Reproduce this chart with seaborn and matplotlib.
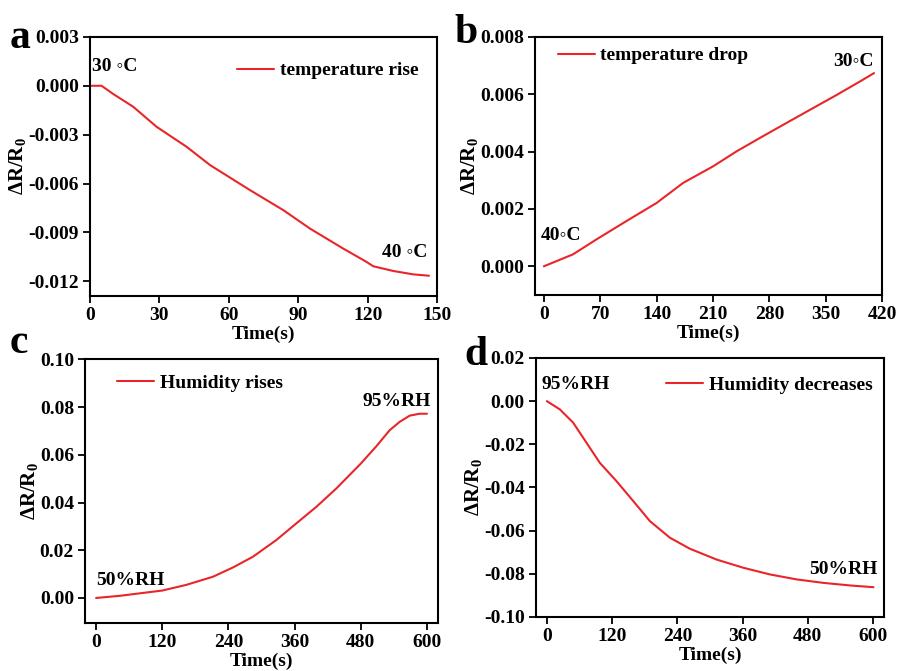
import numpy as np
import pandas as pd
import seaborn as sns
import matplotlib.pyplot as plt
from matplotlib.ticker import FormatStrFormatter

# ---- data ----
t_rise = [0, 5, 10, 18.7, 28.8, 41.8, 51.9, 69.2, 83.6, 95.1, 109.5, 119.6, 122.4, 131.1, 139.8, 146.5]
r_rise = [0.0, 0.0, -0.0005, -0.00129, -0.00252, -0.00375, -0.00487, -0.00641, -0.00764,
          -0.00877, -0.0100, -0.01082, -0.01108, -0.01137, -0.01158, -0.01166]

t_drop = [0, 15.7, 36.4, 65.4, 102.7, 140, 173, 210.3, 239.3, 268.4, 297.4, 330.5, 363.7, 392.6, 410]
r_drop = [0.0, 0.00018, 0.00042, 0.00094, 0.00158, 0.00221, 0.00291, 0.00349, 0.00401,
          0.00448, 0.00494, 0.00546, 0.00598, 0.00645, 0.00674]

t_hum_up = [0, 43, 119.7, 163.8, 212, 248.3, 284.6, 327, 360.7, 399.5, 435.7, 480.4,
            508.3, 532.4, 550.5, 568.7, 586.8, 600]
r_hum_up = [0.0, 0.0009, 0.0031, 0.0055, 0.0089, 0.0128, 0.0173, 0.0243, 0.0308, 0.0382,
            0.0459, 0.0564, 0.0636, 0.0703, 0.0738, 0.0764, 0.0772, 0.0772]

t_hum_dn = [0, 23.9, 48.5, 73, 97.5, 128.2, 158.9, 189.6, 226.4, 263.2, 312.3, 361.4,
            410.5, 459.6, 508.7, 557.8, 600.7]
r_hum_dn = [0.0, -0.0038, -0.0100, -0.0193, -0.0286, -0.0371, -0.0463, -0.0556, -0.0633,
            -0.0684, -0.0734, -0.0772, -0.0803, -0.0826, -0.0842, -0.0854, -0.0862]

sns.set_style("ticks")
plt.rcParams['font.family'] = ['Liberation Serif', 'DejaVu Serif']
plt.rcParams['font.weight'] = 'bold'
plt.rcParams['axes.labelweight'] = 'bold'
plt.rcParams['axes.unicode_minus'] = False
for k in ['text.color', 'axes.labelcolor', 'xtick.color', 'ytick.color', 'axes.edgecolor']:
    plt.rcParams[k] = 'black'
plt.rcParams['mathtext.fontset'] = 'custom'
plt.rcParams['mathtext.rm'] = 'Liberation Serif:bold'
plt.rcParams['mathtext.it'] = 'Liberation Serif:bold'
plt.rcParams['mathtext.bf'] = 'Liberation Serif:bold'

red = '#e8262a'
fig = plt.figure(figsize=(8.97, 6.71), dpi=100)

panels = [
    # letter, rect, x, y, legend, xlim, xticks, ylim, yticks, fmt, legend loc, anchor, notes
    ("a", [0.1003, 0.559, 0.387, 0.386], t_rise, r_rise, "temperature rise",
     (0, 150), np.arange(0, 151, 30), (-0.0129, 0.003), np.arange(-0.012, 0.0031, 0.003), '%.3f',
     'upper right', (0.968, 0.934), [(1, 0.00116, "30 \u25e6C"), (126, -0.01022, "40 \u25e6C")]),
    ("b", [0.5964, 0.5604, 0.387, 0.3845], t_drop, r_drop, "temperature drop",
     (-11, 420), np.arange(0, 421, 70), (-0.001, 0.008), np.arange(0, 0.0081, 0.002), '%.3f',
     'upper left', (0.043, 0.992), [(-4, 0.00108, "40\u25e6C"), (359, 0.00713, "30\u25e6C")]),
    ("c", [0.0948, 0.0715, 0.3935, 0.393], t_hum_up, r_hum_up, "Humidity rises",
     (-20, 620), np.arange(0, 601, 120), (-0.0105, 0.10), np.arange(0, 0.101, 0.02), '%.2f',
     'upper left', (0.068, 0.973), [(0, 0.0075, "50%RH"), (484, 0.0824, "95%RH")]),
    ("d", [0.5975, 0.0805, 0.388, 0.386], t_hum_dn, r_hum_dn, "Humidity decreases",
     (-20, 620), np.arange(0, 601, 120), (-0.10, 0.02), np.arange(-0.10, 0.021, 0.02), '%.2f',
     'upper right', (0.989, 0.958), [(-9, 0.0075, "95%RH"), (482, -0.0778, "50%RH")]),
]

letter_pos = {"a": (10, 48), "b": (454, 43), "c": (10, 353), "d": (464, 365)}

for letter, rect, xs, ys, lab, xlim, xt, ylim, yt, fmt, loc, anchor, notes in panels:
    ax = fig.add_axes(rect)
    df = pd.DataFrame({"t": xs, "r": ys})
    sns.lineplot(data=df, x="t", y="r", ax=ax, color=red, linewidth=1.5, label=lab)
    ax.set_xlim(*xlim)
    ax.set_ylim(*ylim)
    ax.set_xticks(xt)
    ax.set_yticks(np.round(yt, 4) + 0.0)
    ax.yaxis.set_major_formatter(FormatStrFormatter(fmt))
    ax.tick_params(direction='out', length=5, width=1.3, labelsize=14, pad=3)
    for s in ax.spines.values():
        s.set_linewidth(1.5)
        s.set_color('black')
    ax.set_xlabel("Time(s)", fontsize=14, fontweight='bold', labelpad=1)
    ax.set_ylabel(r"$\Delta$R/R$_0$", fontsize=15, fontweight='bold', labelpad=0)
    leg = ax.legend(loc=loc, bbox_to_anchor=anchor, frameon=False, fontsize=14,
                    handlelength=1.9, handletextpad=0.3, borderaxespad=0)
    for txt in leg.get_texts():
        txt.set_fontweight('bold')
    for nx, ny, ntext in notes:
        ax.text(nx, ny, ntext, fontsize=14, fontweight='bold', va='center', ha='left')
    px, py = letter_pos[letter]
    fig.text(px / 897, 1 - py / 671, letter, fontsize=30, fontweight='bold', va='baseline')

fig.savefig("out.png", dpi=100)
